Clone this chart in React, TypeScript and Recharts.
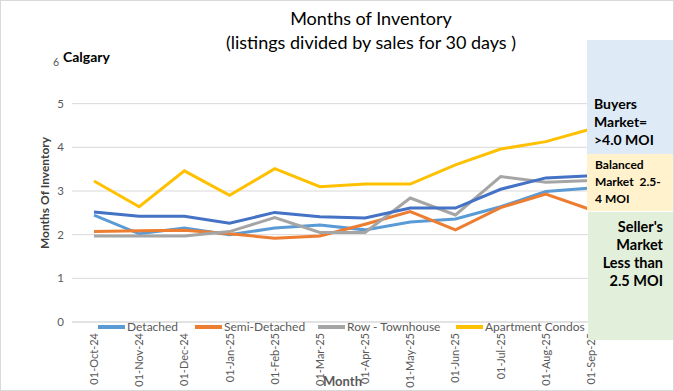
import { LineChart, Line, XAxis, YAxis, CartesianGrid } from 'recharts';

const months = [
  '01-Oct-24', '01-Nov-24', '01-Dec-24', '01-Jan-25', '01-Feb-25', '01-Mar-25',
  '01-Apr-25', '01-May-25', '01-Jun-25', '01-Jul-25', '01-Aug-25', '01-Sep-25',
];
const detached = [2.45, 2.02, 2.15, 2.0, 2.15, 2.22, 2.11, 2.29, 2.36, 2.64, 2.99, 3.07];
const semiDetached = [2.07, 2.09, 2.1, 2.02, 1.92, 1.97, 2.24, 2.53, 2.11, 2.62, 2.93, 2.57];
const rowTownhouse = [1.97, 1.97, 1.97, 2.07, 2.39, 2.05, 2.05, 2.84, 2.45, 3.33, 3.2, 3.24];
const apartmentCondos = [3.23, 2.64, 3.46, 2.9, 3.51, 3.1, 3.16, 3.16, 3.6, 3.96, 4.13, 4.42];
const total = [2.52, 2.42, 2.42, 2.26, 2.51, 2.41, 2.38, 2.61, 2.61, 3.04, 3.3, 3.35];
const yTicks = [0, 1, 2, 3, 4, 5, 6];

const data = months.map((m, i) => ({
  month: m,
  detached: detached[i],
  semi: semiDetached[i],
  row: rowTownhouse[i],
  apt: apartmentCondos[i],
  total: total[i],
}));

const legendItems = [
  { name: 'Detached', color: '#5B9BD5', left: 97 },
  { name: 'Semi-Detached', color: '#ED7D31', left: 194 },
  { name: 'Row - Townhouse', color: '#A5A5A5', left: 317 },
  { name: 'Apartment Condos', color: '#FFC000', left: 455 },
];

const FONT = 'Lato, "Liberation Sans", sans-serif';

function XTick({ x, y, payload }: any) {
  return (
    <text
      x={0}
      y={0}
      transform={`translate(${x + 4},${y + 3}) rotate(-90)`}
      textAnchor="end"
      fontSize={11}
      fill="#595959"
      fontFamily={FONT}
    >
      {payload.value}
    </text>
  );
}

function YTick({ x, y, payload }: any) {
  // top label is nudged so it sits just left of "Calgary"
  const top = payload.value === 6;
  return (
    <text
      x={x - (top ? 5 : 0)}
      y={y + (top ? 6 : 4)}
      textAnchor="end"
      fontSize={top ? 10.5 : 11.5}
      fill="#595959"
      fontFamily={FONT}
    >
      {payload.value}
    </text>
  );
}

export default function App() {
  return (
    <div
      style={{
        position: 'absolute',
        left: 0,
        top: 0,
        width: 672,
        height: 389,
        border: '1px solid #d9d9d9',
        background: '#fff',
        fontFamily: FONT,
        overflow: 'hidden',
      }}
    >
      <LineChart
        width={672}
        height={389}
        data={data}
        margin={{ top: 59, right: 60, left: 0, bottom: 0 }}
      >
        <CartesianGrid vertical={false} stroke="#d9d9d9" horizontalValues={[0, 1, 2, 3, 4, 5]} />
        <XAxis
          dataKey="month"
          interval={0}
          tick={<XTick />}
          axisLine={{ stroke: '#d9d9d9' }}
          tickLine={false}
          padding={{ left: 22, right: 22 }}
          height={68}
        />
        <YAxis
          domain={[0, 6]}
          ticks={yTicks}
          width={71}
          axisLine={false}
          tickLine={false}
          tick={<YTick />}
        />
        <Line dataKey="detached" name="Detached" stroke="#5B9BD5" strokeWidth={3} dot={false} isAnimationActive={false} />
        <Line dataKey="semi" name="Semi-Detached" stroke="#ED7D31" strokeWidth={3} dot={false} isAnimationActive={false} />
        <Line dataKey="row" name="Row - Townhouse" stroke="#A5A5A5" strokeWidth={3} dot={false} isAnimationActive={false} />
        <Line dataKey="apt" name="Apartment Condos" stroke="#FFC000" strokeWidth={3} dot={false} isAnimationActive={false} />
        <Line dataKey="total" name="Total" stroke="#4472C4" strokeWidth={3} dot={false} isAnimationActive={false} />
      </LineChart>

      {/* legend (sits on the axis line like the original) */}
      {legendItems.map((it) => (
        <div
          key={it.name}
          style={{
            position: 'absolute',
            left: it.left,
            top: 318,
            display: 'flex',
            alignItems: 'center',
            fontSize: 12,
            color: '#595959',
            whiteSpace: 'nowrap',
          }}
        >
          <span style={{ width: 27, height: 4, background: it.color, display: 'inline-block', marginRight: 2 }} />
          <span>{it.name}</span>
        </div>
      ))}

      {/* title */}
      <div style={{ position: 'absolute', left: 170, width: 400, top: 5, textAlign: 'center', fontSize: 18, lineHeight: '24px', color: '#000' }}>
        Months of Inventory
        <br />
        (listings divided by sales for 30 days )
      </div>
      <div style={{ position: 'absolute', left: 62, top: 47, fontSize: 14, fontWeight: 700, color: '#000' }}>Calgary</div>

      {/* axis titles */}
      <div
        style={{
          position: 'absolute',
          left: 43,
          top: 192,
          transform: 'translate(-50%,-50%) rotate(-90deg)',
          whiteSpace: 'nowrap',
          fontSize: 12,
          fontWeight: 700,
          color: '#404040',
        }}
      >
        Months Of Inventory
      </div>
      <div style={{ position: 'absolute', left: 322, top: 372, fontSize: 13, fontWeight: 700, color: '#595959' }}>Month</div>

      {/* market bands */}
      <div style={{ position: 'absolute', left: 586, top: 39, width: 90, height: 114, background: '#DEEBF7' }}>
        <div style={{ position: 'absolute', left: 7, top: 55, fontSize: 14, fontWeight: 700, lineHeight: '18px', color: '#000' }}>
          Buyers
          <br />
          Market=
          <br />
          &gt;4.0 MOI
        </div>
      </div>
      <div style={{ position: 'absolute', left: 586, top: 153, width: 90, height: 57, background: '#FFF2CC' }}>
        <div style={{ position: 'absolute', left: 8, top: 2, fontSize: 12, fontWeight: 700, lineHeight: '17px', color: '#000' }}>
          Balanced
          <br />
          Market&nbsp; 2.5-
          <br />
          4 MOI
        </div>
      </div>
      <div style={{ position: 'absolute', left: 587, top: 211, width: 90, height: 128, background: '#E2EFDA' }}>
        <div
          style={{
            position: 'absolute',
            right: 15,
            top: 6,
            textAlign: 'right',
            fontSize: 14.5,
            fontWeight: 700,
            lineHeight: '18px',
            color: '#000',
            whiteSpace: 'nowrap',
          }}
        >
          Seller's
          <br />
          Market
          <br />
          Less than
          <br />
          2.5 MOI
        </div>
      </div>
    </div>
  );
}
